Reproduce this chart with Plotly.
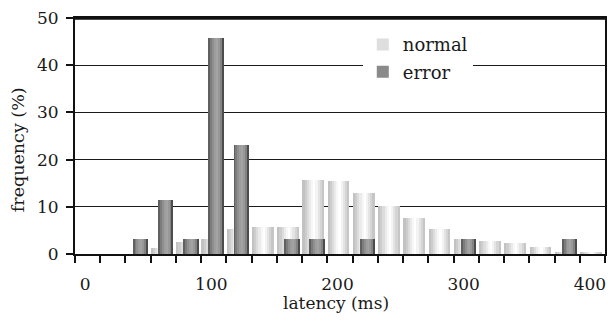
import plotly.graph_objects as go

# latency bins (ms, bin start) and frequencies (%)
bins = [0, 20, 40, 60, 80, 100, 120, 140, 160, 180, 200, 220, 240, 260, 280, 300, 320, 340, 360, 380, 400]
normal = [0, 0, 0, 1.3, 2.6, 3.2, 5.2, 5.8, 5.7, 15.7, 15.5, 13.0, 10.1, 7.6, 5.2, 3.2, 2.8, 2.3, 1.5, 0.4, 0.5]
error = [0, 0, 3.2, 11.5, 3.2, 45.8, 23.1, 0, 3.2, 3.2, 0, 3.2, 0, 0, 0, 3.2, 0, 0, 0, 3.2, 0]
x_tick_labels = ["0", "100", "200", "300", "400"]
y_ticks = [0, 10, 20, 30, 40, 50]

FONT = "DejaVu Serif"
TXT = "#1a1a1a"

# gradient stripe colours (left -> right) to imitate cylinder shading
normal_stripes = ["#c2c2c2", "#cdcdcd", "#dcdcdc", "#ebebeb", "#f7f7f7", "#ffffff",
                  "#f3f3f3", "#e4e4e4", "#d5d5d5", "#c6c6c6"]
error_stripes = ["#606060", "#7c7c7c", "#8f8f8f", "#9d9d9d", "#a3a3a3", "#989898",
                 "#838383", "#4c4c4c"]

BW = 20.0  # bin width (ms)
n_off, n_w = -0.49 * BW, 0.86 * BW
e_off, e_w = -0.22 * BW, 0.62 * BW

fig = go.Figure()


def add_series(name, vals, off, width, stripes, base_color, group):
    fig.add_trace(go.Bar(x=bins, y=vals, name=name, offset=off, width=width,
                         marker=dict(color=base_color, line=dict(width=0)),
                         legendgroup=group, showlegend=True, hoverinfo="skip"))
    n = len(stripes)
    sw = width / n
    for i, c in enumerate(stripes):
        fig.add_trace(go.Bar(x=bins, y=vals, name=name, offset=off + i * sw,
                             width=sw * 1.02,
                             marker=dict(color=c, line=dict(width=0)),
                             legendgroup=group, showlegend=False, hoverinfo="skip"))


add_series("normal", normal, n_off, n_w, normal_stripes, "#dedede", "n")
add_series("error", error, e_off, e_w, error_stripes, "#8a8a8a", "e")

tick_pos = [int(t) - 2 for t in x_tick_labels]

fig.update_layout(
    width=608, height=325,
    margin=dict(l=75, r=1, t=18, b=71),
    paper_bgcolor="white", plot_bgcolor="white",
    barmode="overlay", bargap=0,
    font=dict(family=FONT, size=17, color=TXT),
    showlegend=True,
    legend=dict(x=0.543, y=0.965, xanchor="left", yanchor="top",
                bgcolor="white", borderwidth=0, traceorder="grouped",
                tracegroupgap=1, font=dict(family=FONT, size=18, color=TXT),
                itemclick=False),
    xaxis=dict(range=[-10, 410], showgrid=False, zeroline=False,
               showline=True, linecolor="#111", linewidth=2, mirror=True,
               tickmode="array", tickvals=tick_pos, ticktext=x_tick_labels,
               ticks="", ticklabelstandoff=14,
               tickfont=dict(family=FONT, size=17, color=TXT),
               minor=dict(tickmode="linear", tick0=-10, dtick=BW, ticks="outside",
                          ticklen=7, tickwidth=2, tickcolor="#111", showgrid=False)),
    yaxis=dict(range=[0, 50], tickvals=y_ticks, showgrid=True, gridcolor="#1a1a1a",
               gridwidth=1.3, zeroline=False, showline=True, linecolor="#111",
               linewidth=2, mirror=True, ticks="outside", ticklen=7, tickwidth=2,
               tickcolor="#111", ticklabelstandoff=4,
               tickfont=dict(family=FONT, size=17, color=TXT)),
    shapes=[dict(type="line", xref="paper", yref="paper", x0=0, x1=1, y0=1, y1=1,
                 line=dict(color="#111", width=3.5))],
    annotations=[
        dict(text="latency (ms)", xref="paper", yref="paper", x=(337 - 75) / 532,
             y=(254 - 303) / 236, xanchor="center", yanchor="middle", showarrow=False,
             font=dict(family=FONT, size=17, color=TXT)),
        dict(text="frequency (%)", xref="paper", yref="paper", x=(18 - 75) / 532,
             y=(254 - 150) / 236, xanchor="center", yanchor="middle", showarrow=False,
             textangle=-90, font=dict(family=FONT, size=17.5, color=TXT)),
    ],
)

fig.write_html("out.html",
               config={"displayModeBar": False, "staticPlot": True},
               post_script="document.body.style.margin='0';document.body.style.overflow='hidden';")
